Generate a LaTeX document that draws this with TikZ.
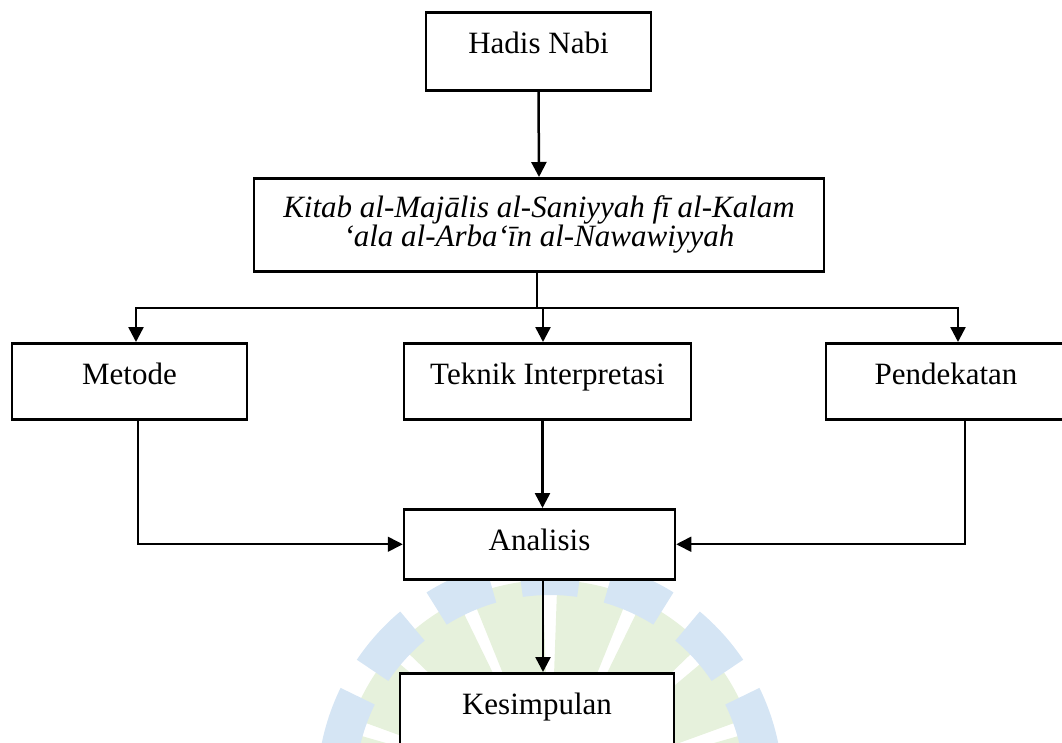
\documentclass[tikz,border=0pt]{standalone}
\usepackage{fontspec}
\setmainfont{Liberation Serif}
\usetikzlibrary{arrows.meta}
\definecolor{wmbiru}{RGB}{213,229,244}
\definecolor{wmhijau}{RGB}{230,241,220}
\tikzset{
	kotak/.style={draw, fill=white, line width=2.5pt, inner sep=0pt, anchor=north},
	teks/.style={text height=41pt, font=\fontsize{31}{36}\selectfont},
	panah/.style={line width=2.5pt, -{Triangle[length=15pt,width=15pt]}},
	tipis/.style={line width=1.6pt}
}
\begin{document}
\begin{tikzpicture}[x=1pt, y=-1pt]
		\useasboundingbox (0, 0) rectangle (1062, 742);
		\coordinate (pusat) at (550, 790);
		\foreach \a in {-84, -60, ..., 84}{
			\fill[wmhijau] ([shift={(-100+\a:110)}]pusat) arc[start angle=-100+\a, end angle=-80+\a, radius=110]
				-- ([shift={(-80+\a:210)}]pusat) arc[start angle=-80+\a, end angle=-100+\a, radius=210] -- cycle;
		}
		\foreach \a in {-72, -48, ..., 72}{
			\fill[wmbiru] ([shift={(-98+\a:195)}]pusat) arc[start angle=-98+\a, end angle=-82+\a, radius=195]
				-- ([shift={(-82+\a:233)}]pusat) arc[start angle=-82+\a, end angle=-98+\a, radius=233] -- cycle;
		}
		\node[kotak, teks, minimum width=225pt, text depth=37pt] (hadis) at (538.5, 11) {Hadis Nabi};
		\node[kotak, minimum width=570pt, minimum height=93pt, align=center, font=\itshape\fontsize{31}{27}\selectfont] (kitab) at (539, 177)
			{Kitab al-Majālis al-Saniyyah fī al-Kalam\\‘ala al-Arba‘īn al-Nawawiyyah};
		\node[kotak, teks, minimum width=235pt, text depth=35pt] (metode) at (129.5, 342) {Metode};
		\node[kotak, teks, minimum width=287pt, text depth=35pt] (teknik) at (547.5, 342) {Teknik Interpretasi};
		\node[kotak, teks, minimum width=240pt, text depth=35pt] (pendekatan) at (946, 342) {Pendekatan};
		\node[kotak, teks, minimum width=271pt, text depth=29pt] (analisis) at (539.5, 508) {Analisis};
		\node[kotak, teks, minimum width=274pt, text depth=47pt] (kesimpulan) at (537, 672) {Kesimpulan};
		\coordinate (cabang) at (537, 308);
		\draw[panah] (hadis.south) -- (kitab.north);
		\draw[line width=2.5pt] (kitab.south -| cabang) -- (cabang);
		\draw[panah] (cabang) -| ([xshift=6.5pt]metode.north);
		\draw[panah] (cabang) -| ([xshift=-4.5pt]teknik.north);
		\draw[panah] (cabang) -| ([xshift=12pt]pendekatan.north);
		\draw[panah, tipis] ([xshift=8.5pt]metode.south) |- (analisis.west);
		\draw[panah, tipis] ([xshift=19pt]pendekatan.south) |- (analisis.east);
		\draw[panah] ([xshift=-5pt]teknik.south) -- ([xshift=3pt]analisis.north);
		\draw[panah] ([xshift=3.5pt]analisis.south) -- ([xshift=6pt]kesimpulan.north);
	\end{tikzpicture}
\end{document}
